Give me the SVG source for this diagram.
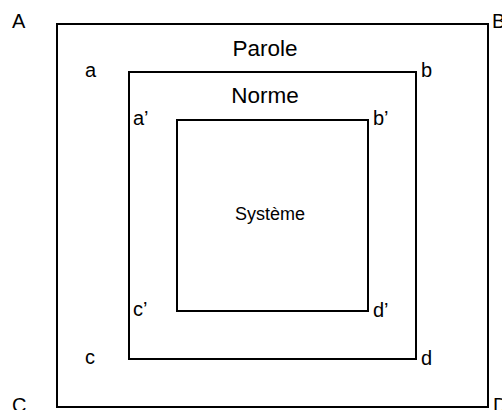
<svg xmlns="http://www.w3.org/2000/svg" width="502" height="410" viewBox="0 0 502 410">
<style>
rect.box{fill:none;stroke:#000;stroke-width:2}
text{font-family:"Liberation Sans",Arial,sans-serif;fill:#000}
.lab{font-size:20px}
.big{font-size:22.5px;text-anchor:middle}
.mid{font-size:18px;text-anchor:middle}
</style>
<rect width="502" height="410" fill="#fff"/>
<g id="parole">
<rect class="box" x="57" y="24" width="431" height="383"/>
<text class="big" x="265" y="56">Parole</text>
</g>
<g id="norme">
<rect class="box" x="129" y="72" width="287" height="287"/>
<text class="big" x="265" y="103">Norme</text>
</g>
<g id="systeme">
<rect class="box" x="177" y="120" width="191" height="191"/>
<text class="mid" x="270" y="220">Système</text>
</g>
<g id="labels">
<text class="lab" x="12" y="28">A</text>
<text class="lab" x="492" y="28">B</text>
<text class="lab" x="12" y="412">C</text>
<text class="lab" x="493" y="412">D</text>
<text class="lab" x="85" y="77">a</text>
<text class="lab" x="421" y="77">b</text>
<text class="lab" x="85" y="364">c</text>
<text class="lab" x="421" y="365">d</text>
<text class="lab" x="133" y="125">a’</text>
<text class="lab" x="373" y="125">b’</text>
<text class="lab" x="133" y="316">c’</text>
<text class="lab" x="373" y="317">d’</text>
</g>
<g id="connectors"></g>
</svg>
